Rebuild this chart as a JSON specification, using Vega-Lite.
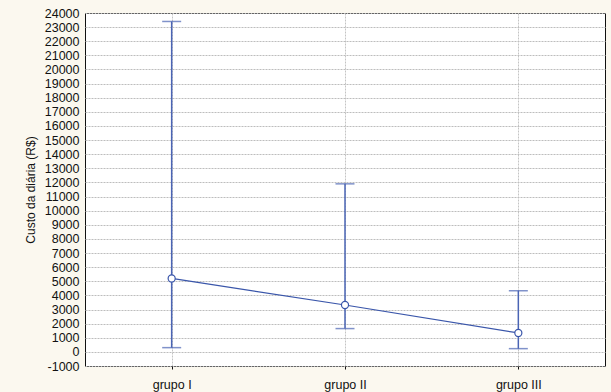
{
  "$schema": "https://vega.github.io/schema/vega-lite/v6.json",
  "autosize": "none",
  "width": 520,
  "height": 353,
  "padding": {"left": 85, "top": 13, "right": 6, "bottom": 26},
  "background": "#fbf8ef",
  "config": {
    "view": {"fill": "white", "stroke": "#111111", "strokeWidth": 1},
    "font": "Liberation Sans",
    "axis": {"labelFont": "Liberation Sans", "titleFont": "Liberation Sans", "labelColor": "#111111", "titleColor": "#111111"},
    "axisY": {
      "titleFontSize": 12,
      "titleFontWeight": "normal",
      "titlePadding": 7,
      "labelFontSize": 12.5,
      "labelPadding": 6,
      "labelOverlap": false,
      "labelBound": false,
      "labelFlush": false,
      "ticks": false,
      "domain": false,
      "grid": true,
      "gridColor": "#bdbdbd",
      "gridDash": [2, 1]
    }
  },
  "data": {
    "values": [
      {"grupo": "grupo I", "mean": 5200, "low": 300, "high": 23400},
      {"grupo": "grupo II", "mean": 3320, "low": 1650, "high": 11900},
      {"grupo": "grupo III", "mean": 1340, "low": 230, "high": 4330}
    ]
  },
  "encoding": {
    "x": {
      "field": "grupo",
      "type": "ordinal",
      "sort": null,
      "scale": {"type": "point", "padding": 0.5},
      "axis": {
        "title": null,
        "labelAngle": 0,
        "labelFontSize": 12.5,
        "labelPadding": 9,
        "ticks": true,
        "tickSize": 3,
        "tickColor": "#111111",
        "domain": false,
        "grid": true,
        "gridColor": "#c4c4c4",
        "gridDash": [2, 1]
      }
    }
  },
  "layer": [
    {
      "mark": {"type": "rule", "color": "#4a64b4", "strokeWidth": 1.5},
      "encoding": {
        "y": {
          "field": "low",
          "type": "quantitative",
          "scale": {"domain": [-1000, 24000], "nice": false, "zero": false},
          "axis": {
            "title": "Custo da diária (R$)",
            "values": [-1000, 0, 1000, 2000, 3000, 4000, 5000, 6000, 7000, 8000, 9000, 10000, 11000, 12000, 13000, 14000, 15000, 16000, 17000, 18000, 19000, 20000, 21000, 22000, 23000, 24000],
            "labelExpr": "datum.value < 0 ? '-' + format(-datum.value, 'd') : format(datum.value, 'd')"
          }
        },
        "y2": {"field": "high"}
      }
    },
    {
      "mark": {"type": "tick", "color": "#4a64b4", "size": 19, "thickness": 1.5},
      "encoding": {"y": {"field": "low", "type": "quantitative",
          "axis": {
            "title": "Custo da diária (R$)",
            "values": [-1000, 0, 1000, 2000, 3000, 4000, 5000, 6000, 7000, 8000, 9000, 10000, 11000, 12000, 13000, 14000, 15000, 16000, 17000, 18000, 19000, 20000, 21000, 22000, 23000, 24000],
            "labelExpr": "datum.value < 0 ? '-' + format(-datum.value, 'd') : format(datum.value, 'd')"
          }}}
    },
    {
      "mark": {"type": "tick", "color": "#4a64b4", "size": 19, "thickness": 1.5},
      "encoding": {"y": {"field": "high", "type": "quantitative",
          "axis": {
            "title": "Custo da diária (R$)",
            "values": [-1000, 0, 1000, 2000, 3000, 4000, 5000, 6000, 7000, 8000, 9000, 10000, 11000, 12000, 13000, 14000, 15000, 16000, 17000, 18000, 19000, 20000, 21000, 22000, 23000, 24000],
            "labelExpr": "datum.value < 0 ? '-' + format(-datum.value, 'd') : format(datum.value, 'd')"
          }}}
    },
    {
      "mark": {"type": "line", "color": "#3a56aa", "strokeWidth": 1.2},
      "encoding": {"y": {"field": "mean", "type": "quantitative",
          "axis": {
            "title": "Custo da diária (R$)",
            "values": [-1000, 0, 1000, 2000, 3000, 4000, 5000, 6000, 7000, 8000, 9000, 10000, 11000, 12000, 13000, 14000, 15000, 16000, 17000, 18000, 19000, 20000, 21000, 22000, 23000, 24000],
            "labelExpr": "datum.value < 0 ? '-' + format(-datum.value, 'd') : format(datum.value, 'd')"
          }}}
    },
    {
      "mark": {"type": "point", "shape": "circle", "filled": true, "fill": "white", "stroke": "#3a56aa", "strokeWidth": 1.2, "size": 50, "opacity": 1},
      "encoding": {"y": {"field": "mean", "type": "quantitative",
          "axis": {
            "title": "Custo da diária (R$)",
            "values": [-1000, 0, 1000, 2000, 3000, 4000, 5000, 6000, 7000, 8000, 9000, 10000, 11000, 12000, 13000, 14000, 15000, 16000, 17000, 18000, 19000, 20000, 21000, 22000, 23000, 24000],
            "labelExpr": "datum.value < 0 ? '-' + format(-datum.value, 'd') : format(datum.value, 'd')"
          }}}
    }
  ]
}
